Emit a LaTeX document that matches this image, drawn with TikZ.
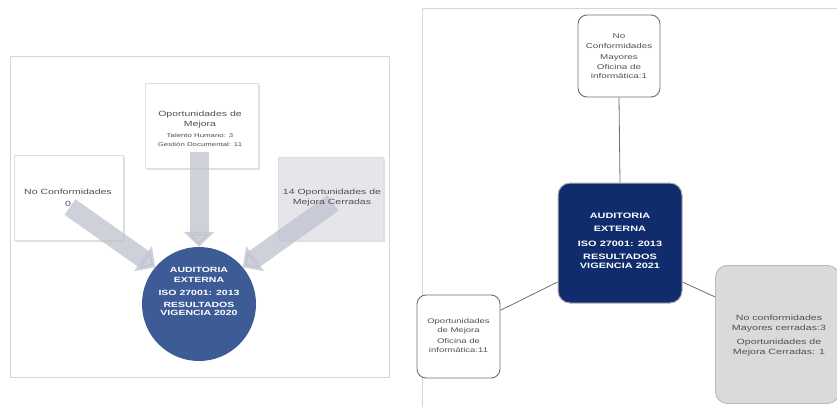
\documentclass[tikz,border=0pt]{standalone}
\usepackage{fontspec}
\setmainfont{Liberation Sans}
\newfontfamily\wf[FakeStretch=1.4]{Liberation Sans}
\usetikzlibrary{arrows.meta,shadows}
\definecolor{framegray}{HTML}{D6D6D6}
\definecolor{arrowgray}{HTML}{BFC2CE}
\definecolor{circblue}{HTML}{3D5C96}
\definecolor{navy}{HTML}{102C6C}
\definecolor{boxgray}{HTML}{DADADA}
\definecolor{lightgraybox}{HTML}{E6E6EA}
\definecolor{txtgray}{HTML}{505050}
\definecolor{linegray}{HTML}{707070}
\tikzset{
  lbox/.style={draw=gray!25, fill=white, inner sep=0pt,
    drop shadow={shadow xshift=1.5pt, shadow yshift=-1.5pt, opacity=0.25, fill=gray}},
  lbl/.style={align=center, text=txtgray, inner sep=0pt, font=\wf\fontsize{7.5}{10}\selectfont},
  blockarrow/.style={line width=19pt, draw=arrowgray, opacity=0.75,
    -{Triangle[length=15pt,width=30pt]}},
  rbox/.style={draw=linegray, line width=0.9pt, rounded corners=9pt, fill=white, inner sep=0pt},
  conn/.style={draw=linegray, line width=0.8pt},
  frameline/.style={draw=framegray, line width=1pt},
  wtext/.style={text=white, align=center, inner sep=0pt, font=\wf\bfseries\fontsize{7.5}{11}\selectfont}
}
\newcommand{\smalltxt}{\fontsize{5.6}{8}\selectfont}
\begin{document}
\begin{tikzpicture}[x=1pt,y=-1pt]
\useasboundingbox (0,0) rectangle (837,407);
\fill[white] (0,0) rectangle (837,407);

% ---------------- Left panel ----------------
\draw[frameline] (10,56) rectangle (389,377);

\node[lbox, minimum width=113pt, minimum height=85pt] (opm) at (201.5,125.5) {};
\node[lbox, minimum width=109pt, minimum height=85pt] (nc) at (68.5,197.5) {};
\node[lbox, fill=lightgraybox, minimum width=105pt, minimum height=83pt] (cer) at (330.5,198.5) {};
\node[circle, fill=circblue, minimum size=114pt, inner sep=0pt] (aud1) at (199,304) {};

\coordinate (a1s) at (199,152);
\coordinate (a2s) at (70,207);
\coordinate (a3s) at (333,203);
\draw[blockarrow] (a1s) -- (aud1.north);
\draw[blockarrow] (a2s) -- (aud1.140);
\draw[blockarrow] (a3s) -- (aud1.40);

\node[lbl] (opmt) at (200,129)
  {Oportunidades de\\Mejora\\[1pt]
   {\smalltxt Talento Humano: 3}\\[-1pt]{\smalltxt Gestión Documental: 11}};
\node[lbl, font=\wf\fontsize{7.5}{12.5}\selectfont] (nct) at (68,198) {No Conformidades\\0};
\node[lbl] (cert) at (332,198) {14 Oportunidades de\\Mejora Cerradas};
\node[wtext] (aud1t) at (199,291)
  {AUDITORIA\\[-1pt]EXTERNA\\[2pt]ISO 27001: 2013\\[1pt]RESULTADOS\\[-3pt]VIGENCIA 2020};

% ---------------- Right panel ----------------
\draw[frameline] (422,407) -- (422,8) -- (837,8);

\node[rbox, minimum width=82pt, minimum height=82pt] (top2) at (619,56) {};
\node[lbl, font=\wf\fontsize{7}{10.5}\selectfont] (top2t) at (619,56)
  {No\\Conformidades\\Mayores\\Oficina de\\[-1.5pt]informática:1};

\node[draw=gray!60, line width=1pt, fill=navy, rounded corners=12pt,
  minimum width=124pt, minimum height=120pt] (aud2) at (620,243) {};
\node[wtext, font=\wf\bfseries\fontsize{7.8}{13}\selectfont] (aud2t) at (620,241)
  {AUDITORIA\\EXTERNA\\[2pt]ISO 27001: 2013\\RESULTADOS\\[-4pt]VIGENCIA 2021};

\node[rbox, minimum width=83pt, minimum height=83pt] (om2) at (458.5,336.5) {};
\node[lbl, font=\wf\fontsize{6.8}{9}\selectfont] (om2t) at (458.5,336)
  {Oportunidades\\de Mejora\\[2pt]Oficina de\\informática:11};

\node[rbox, draw=gray!55, fill=boxgray, rounded corners=12pt, minimum width=124pt, minimum height=138pt,
  anchor=north west] (cer2) at (715,265) {};
\node[lbl, font=\wf\fontsize{7.6}{10}\selectfont] (cer2t) at (779,336)
  {No conformidades\\Mayores cerradas:3\\[4pt]Oportunidades de\\Mejora Cerradas: 1};

\draw[conn] (top2.south) -- (aud2.north);
\draw[conn] (aud2.212) -- (om2.32);
\draw[conn] (aud2.328) -- (cer2.149);
\end{tikzpicture}
\end{document}
